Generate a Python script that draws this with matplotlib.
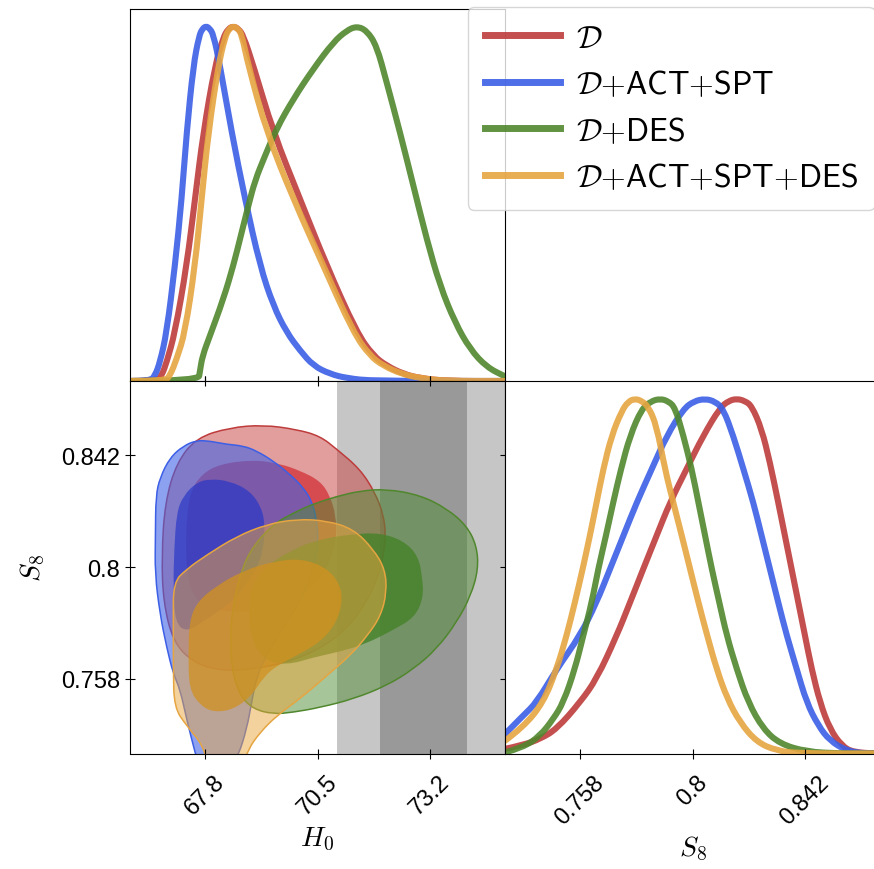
import numpy as np
import matplotlib
matplotlib.use('Agg')
import matplotlib.pyplot as plt
from matplotlib.lines import Line2D
from matplotlib.path import Path
from matplotlib.patches import PathPatch

plt.rcParams['font.family'] = ['Liberation Sans', 'DejaVu Sans']
plt.rcParams['mathtext.fontset'] = 'cm'

# ─── Parameter ranges / ticks ────────────────────────────────────────────────
H0_RANGE = (66.0, 75.0)
S8_RANGE = (0.730, 0.870)
H0_TICKS = [67.8, 70.5, 73.2]
S8_TICKS = [0.758, 0.8, 0.842]
H0_TICKLABELS = ['67.8', '70.5', '73.2']
S8_TICKLABELS = ['0.758', '0.8', '0.842']

# local distance-ladder H0 band (mean, 1 sigma)
SH0ES_MEAN, SH0ES_SIG = 73.04, 1.04

LABELS = [r'$\mathcal{D}$',
          r'$\mathcal{D}{+}\mathsf{ACT}{+}\mathsf{SPT}$',
          r'$\mathcal{D}{+}\mathsf{DES}$',
          r'$\mathcal{D}{+}\mathsf{ACT}{+}\mathsf{SPT}{+}\mathsf{DES}$']
LINE_COLORS = ['#BE3C3C', '#3C5FE6', '#50872D', '#E6A541']
FILL_2SIG = [(0.78, 0.24, 0.24, 0.50), (0.25, 0.39, 0.90, 0.60),
             (0.31, 0.55, 0.20, 0.50), (0.92, 0.65, 0.24, 0.50)]
FILL_1SIG = [(0.82, 0.16, 0.18, 0.70), (0.16, 0.22, 0.78, 0.70),
             (0.27, 0.51, 0.16, 0.80), (0.82, 0.57, 0.12, 0.75)]

# ─── 1D marginals: (H0, P/Pmax) ──────────────────────────────────────────────
H0_D = [(66.00, 0.0), (66.64, 0.0), (66.76, 0.015), (66.88, 0.053), (67.08, 0.137),
        (67.36, 0.325), (67.56, 0.513), (67.76, 0.701), (68.04, 0.889), (68.24, 0.969),
        (68.36, 0.993), (68.48, 1.0), (68.60, 0.993), (68.72, 0.974), (68.96, 0.889),
        (69.44, 0.701), (70.08, 0.513), (70.72, 0.325), (71.44, 0.137), (71.84, 0.071),
        (72.16, 0.043), (72.56, 0.020), (72.96, 0.008), (73.60, 0.0), (75.00, 0.0)]
H0_ACT = [(66.00, 0.0), (66.48, 0.0), (66.60, 0.015), (66.72, 0.053), (66.88, 0.137),
          (67.08, 0.325), (67.24, 0.513), (67.36, 0.701), (67.52, 0.889), (67.66, 0.974),
          (67.74, 0.993), (67.82, 1.0), (67.90, 0.995), (68.00, 0.978), (68.16, 0.889),
          (68.44, 0.701), (68.76, 0.513), (69.12, 0.325), (69.44, 0.212), (69.76, 0.137),
          (70.08, 0.086), (70.40, 0.043), (70.80, 0.020), (71.20, 0.008), (71.84, 0.0),
          (75.00, 0.0)]
H0_DES = [(66.00, 0.0), (67.64, 0.0), (67.68, 0.029), (67.74, 0.071), (67.92, 0.128),
          (68.24, 0.231), (68.48, 0.325), (68.68, 0.419), (68.84, 0.494), (69.00, 0.565),
          (69.24, 0.635), (69.52, 0.712), (69.92, 0.795), (70.40, 0.880), (70.88, 0.955),
          (71.20, 0.988), (71.44, 1.0), (71.68, 0.988), (71.92, 0.945), (72.16, 0.842),
          (72.48, 0.701), (72.80, 0.551), (73.12, 0.400), (73.44, 0.269), (73.80, 0.165),
          (74.16, 0.090), (74.56, 0.039), (75.00, 0.013)]
H0_ALL = [(66.00, 0.0), (66.84, 0.0), (66.96, 0.015), (67.12, 0.062), (67.32, 0.137),
          (67.56, 0.325), (67.72, 0.513), (67.88, 0.701), (68.12, 0.889), (68.28, 0.969),
          (68.38, 0.993), (68.48, 1.0), (68.58, 0.994), (68.68, 0.978), (68.84, 0.889),
          (69.28, 0.701), (69.92, 0.513), (70.64, 0.325), (71.36, 0.137), (71.76, 0.071),
          (72.08, 0.043), (72.52, 0.020), (72.96, 0.008), (73.60, 0.0), (75.00, 0.0)]

# ─── 1D marginals: (S8, P/Pmax) ──────────────────────────────────────────────
S8_D = [(0.7300, 0.013), (0.7368, 0.024), (0.7431, 0.041), (0.7493, 0.069), (0.7580, 0.144),
        (0.7642, 0.210), (0.7717, 0.332), (0.7767, 0.426), (0.7816, 0.520), (0.7866, 0.614),
        (0.7916, 0.708), (0.7978, 0.802), (0.8040, 0.896), (0.8103, 0.975), (0.8135, 0.994),
        (0.8165, 1.0), (0.8195, 0.994), (0.8221, 0.980), (0.8258, 0.915), (0.8289, 0.821),
        (0.8320, 0.708), (0.8345, 0.614), (0.8370, 0.520), (0.8395, 0.426), (0.8420, 0.332),
        (0.8445, 0.238), (0.8476, 0.144), (0.8513, 0.069), (0.8557, 0.022), (0.8600, 0.003),
        (0.8700, 0.0)]
S8_ACT = [(0.7300, 0.055), (0.7368, 0.107), (0.7418, 0.144), (0.7493, 0.238), (0.7580, 0.332),
          (0.7642, 0.426), (0.7692, 0.520), (0.7742, 0.614), (0.7792, 0.708), (0.7848, 0.802),
          (0.7904, 0.896), (0.7966, 0.971), (0.8005, 0.993), (0.8047, 1.0), (0.8085, 0.992),
          (0.8115, 0.971), (0.8152, 0.896), (0.8190, 0.802), (0.8227, 0.708), (0.8258, 0.614),
          (0.8289, 0.520), (0.8320, 0.426), (0.8352, 0.332), (0.8389, 0.238), (0.8426, 0.144),
          (0.8470, 0.078), (0.8513, 0.036), (0.8575, 0.008), (0.8638, 0.0), (0.8700, 0.0)]
S8_DES = [(0.7300, 0.003), (0.7368, 0.017), (0.7431, 0.050), (0.7480, 0.097), (0.7518, 0.144),
          (0.7561, 0.238), (0.7592, 0.332), (0.7624, 0.426), (0.7648, 0.520), (0.7677, 0.614),
          (0.7704, 0.708), (0.7733, 0.802), (0.7767, 0.896), (0.7810, 0.971), (0.7845, 0.993),
          (0.7879, 1.0), (0.7910, 0.993), (0.7935, 0.975), (0.7966, 0.896), (0.7997, 0.802),
          (0.8022, 0.708), (0.8047, 0.614), (0.8072, 0.520), (0.8100, 0.426), (0.8128, 0.332),
          (0.8165, 0.238), (0.8208, 0.144), (0.8264, 0.069), (0.8327, 0.027), (0.8426, 0.005),
          (0.8551, 0.0), (0.8700, 0.0)]
S8_ALL = [(0.7300, 0.036), (0.7368, 0.074), (0.7443, 0.144), (0.7493, 0.238), (0.7530, 0.332),
          (0.7561, 0.426), (0.7590, 0.520), (0.7617, 0.614), (0.7642, 0.708), (0.7667, 0.802),
          (0.7698, 0.896), (0.7736, 0.966), (0.7760, 0.992), (0.7785, 1.0), (0.7810, 0.994),
          (0.7835, 0.978), (0.7866, 0.924), (0.7897, 0.802), (0.7928, 0.708), (0.7960, 0.614),
          (0.7991, 0.520), (0.8022, 0.426), (0.8055, 0.332), (0.8090, 0.238), (0.8130, 0.154),
          (0.8177, 0.088), (0.8240, 0.032), (0.8314, 0.008), (0.8401, 0.0), (0.8700, 0.0)]

# ─── 2D contours in (H0, S8): 68% and 95% ────────────────────────────────────
D_68 = [(67.36, 0.8181), (67.44, 0.8282), (67.72, 0.8350), (68.16, 0.8388), (68.96, 0.8404),
        (69.60, 0.8389), (70.08, 0.8363), (70.56, 0.8325), (70.80, 0.8269), (70.94, 0.8194),
        (70.96, 0.8106), (70.80, 0.8018), (70.48, 0.7943), (70.00, 0.7881), (69.36, 0.7843),
        (68.64, 0.7830), (67.92, 0.7843), (67.48, 0.7893), (67.36, 0.7993), (67.34, 0.8094)]
D_95 = [(66.76, 0.8043), (66.84, 0.8244), (67.12, 0.8394), (67.60, 0.8487), (68.40, 0.8525),
        (69.20, 0.8535), (70.00, 0.8518), (70.56, 0.8493), (70.96, 0.8444), (71.52, 0.8369),
        (71.88, 0.8281), (72.08, 0.8199), (72.14, 0.8119), (72.08, 0.8043), (71.96, 0.7968),
        (71.68, 0.7868), (71.20, 0.7768), (70.56, 0.7693), (69.76, 0.7642), (68.96, 0.7617),
        (68.16, 0.7611), (67.52, 0.7642), (67.04, 0.7718), (66.80, 0.7868)]
ACT_68 = [(67.12, 0.8206), (67.28, 0.8269), (67.60, 0.8319), (67.92, 0.8332), (68.40, 0.8324),
          (68.88, 0.8287), (69.16, 0.8224), (69.24, 0.8156), (69.20, 0.8068), (69.04, 0.7993),
          (68.72, 0.7918), (68.32, 0.7855), (67.84, 0.7805), (67.36, 0.7755), (67.08, 0.7793),
          (67.04, 0.7931), (67.06, 0.8068)]
ACT_95 = [(66.62, 0.8268), (66.72, 0.8337), (66.96, 0.8412), (67.28, 0.8456), (67.60, 0.8477),
          (67.92, 0.8474), (68.32, 0.8462), (68.72, 0.8456), (69.04, 0.8437), (69.44, 0.8399),
          (69.84, 0.8349), (70.16, 0.8299), (70.36, 0.8249), (70.48, 0.8181), (70.52, 0.8094),
          (70.40, 0.7993), (70.16, 0.7893), (69.76, 0.7793), (69.36, 0.7693), (69.04, 0.7592),
          (68.92, 0.7492), (68.80, 0.7392), (68.60, 0.7292), (68.40, 0.7242), (67.68, 0.7242),
          (67.56, 0.7304), (67.36, 0.7429), (67.20, 0.7542), (67.04, 0.7599), (66.88, 0.7699),
          (66.72, 0.7824), (66.60, 0.7975), (66.61, 0.8119)]
DES_68 = [(68.84, 0.7843), (68.92, 0.7937), (69.28, 0.8006), (69.92, 0.8068), (70.56, 0.8106),
          (71.36, 0.8125), (72.00, 0.8129), (72.56, 0.8100), (72.92, 0.8043), (73.02, 0.7956),
          (73.04, 0.7887), (72.84, 0.7812), (72.28, 0.7761), (71.64, 0.7711), (71.04, 0.7683),
          (70.40, 0.7661), (69.76, 0.7632), (69.20, 0.7652), (68.90, 0.7736)]
DES_95 = [(69.44, 0.8162), (69.92, 0.8204), (70.40, 0.8238), (70.96, 0.8266), (71.52, 0.8287),
          (72.16, 0.8294), (72.96, 0.8271), (73.60, 0.8221), (74.08, 0.8156), (74.32, 0.8081),
          (74.36, 0.7993), (74.18, 0.7893), (73.84, 0.7793), (73.36, 0.7693), (72.80, 0.7617),
          (72.16, 0.7555), (71.36, 0.7505), (70.56, 0.7473), (69.92, 0.7455), (69.44, 0.7448),
          (68.96, 0.7467), (68.64, 0.7517), (68.44, 0.7617), (68.40, 0.7743), (68.48, 0.7868),
          (68.68, 0.7993), (68.96, 0.8081)]
ALL_68 = [(67.42, 0.7542), (67.40, 0.7668), (67.42, 0.7793), (67.60, 0.7868), (68.08, 0.7931),
          (68.72, 0.7987), (69.44, 0.8022), (70.12, 0.8033), (70.72, 0.7998), (71.04, 0.7937),
          (71.10, 0.7868), (70.94, 0.7787), (70.56, 0.7718), (70.00, 0.7668), (69.52, 0.7630),
          (69.20, 0.7586), (68.92, 0.7517), (68.48, 0.7465), (68.00, 0.7455), (67.68, 0.7482)]
ALL_95 = [(67.04, 0.7943), (67.36, 0.7993), (67.84, 0.8046), (68.56, 0.8116), (69.28, 0.8161),
          (70.00, 0.8181), (70.72, 0.8175), (71.36, 0.8144), (71.84, 0.8068), (72.12, 0.7993),
          (72.16, 0.7906), (72.02, 0.7818), (71.70, 0.7743), (71.28, 0.7668), (70.72, 0.7592),
          (70.12, 0.7511), (69.52, 0.7442), (69.12, 0.7379), (68.84, 0.7317), (68.68, 0.7242),
          (67.88, 0.7242), (67.76, 0.7329), (67.36, 0.7404), (67.06, 0.7473), (67.04, 0.7617),
          (67.04, 0.7793)]

H0_1D = [H0_D, H0_ACT, H0_DES, H0_ALL]
S8_1D = [S8_D, S8_ACT, S8_DES, S8_ALL]
C68 = [D_68, ACT_68, DES_68, ALL_68]
C95 = [D_95, ACT_95, DES_95, ALL_95]


# ─── Helpers: rounded paths through the read-off vertices ────────────────────
def open_path(pts):
    p = np.asarray(pts, float)
    mids = (p[1:] + p[:-1]) / 2
    verts, codes = [p[0]], [Path.MOVETO]
    for i in range(1, len(p) - 1):
        verts += [p[i], mids[i]]
        codes += [Path.CURVE3, Path.CURVE3]
    verts.append(p[-1])
    codes.append(Path.LINETO)
    return Path(verts, codes)


def closed_path(pts):
    p = np.asarray(pts, float)
    mids = (p + np.roll(p, -1, axis=0)) / 2
    verts, codes = [mids[-1]], [Path.MOVETO]
    for i in range(len(p)):
        verts += [p[i], mids[i]]
        codes += [Path.CURVE3, Path.CURVE3]
    verts.append(mids[-1])
    codes.append(Path.CLOSEPOLY)
    return Path(verts, codes)


# ─── Figure ──────────────────────────────────────────────────────────────────
W, H = 874, 870
fig = plt.figure(figsize=(W / 100, H / 100), dpi=100)
PX_L, PX_M, PX_R = 130, 505, 880
PY_T, PY_M, PY_B = 9.5, 382, 754.5

def box(x0, x1, y0, y1):
    return [x0 / W, 1 - y1 / H, (x1 - x0) / W, (y1 - y0) / H]

ax_h0 = fig.add_axes(box(PX_L, PX_M, PY_T, PY_M))
ax_2d = fig.add_axes(box(PX_L, PX_M, PY_M, PY_B))
ax_s8 = fig.add_axes(box(PX_M, PX_R, PY_M, PY_B))

LW = 4.4
TICK_FS = 17
LABEL_FS = 20

for ax, curves in ((ax_h0, H0_1D), (ax_s8, S8_1D)):
    for pts, c in zip(curves, LINE_COLORS):
        ax.add_patch(PathPatch(open_path(pts), facecolor='none', edgecolor=c,
                               lw=LW, alpha=0.9, capstyle='round', joinstyle='round'))
    ax.set_ylim(0, 1.05)
    ax.set_yticks([])

ax_h0.set_xlim(*H0_RANGE)
ax_h0.set_xticks(H0_TICKS)
ax_h0.tick_params(axis='x', direction='inout', length=7, labelbottom=False)

ax_s8.set_xlim(*S8_RANGE)
ax_s8.set_xticks(S8_TICKS)
ax_s8.set_xticklabels(S8_TICKLABELS, rotation=45, fontsize=TICK_FS)
ax_s8.tick_params(axis='x', direction='inout', length=7, pad=9)
ax_s8.set_xlabel(r'$S_8$', fontsize=LABEL_FS)

# H0 band (1 and 2 sigma)
lo2, hi2 = SH0ES_MEAN - 2 * SH0ES_SIG, SH0ES_MEAN + 2 * SH0ES_SIG
lo1, hi1 = SH0ES_MEAN - SH0ES_SIG, SH0ES_MEAN + SH0ES_SIG
ax_2d.axvspan(lo2, hi2, color='#c6c6c6', lw=0, zorder=0)
ax_2d.axvspan(lo1, hi1, color='#999999', lw=0, zorder=0)

for c95, c68, lc, f2, f1 in zip(C95, C68, LINE_COLORS, FILL_2SIG, FILL_1SIG):
    ax_2d.add_patch(PathPatch(closed_path(c95), facecolor=f2, edgecolor=lc, lw=1.1))
    ax_2d.add_patch(PathPatch(closed_path(c68), facecolor=f1, edgecolor='none'))

ax_2d.set_xlim(*H0_RANGE)
ax_2d.set_ylim(*S8_RANGE)
ax_2d.set_xticks(H0_TICKS)
ax_2d.set_xticklabels(H0_TICKLABELS, rotation=45, fontsize=TICK_FS)
ax_2d.set_yticks(S8_TICKS)
ax_2d.set_yticklabels(S8_TICKLABELS, fontsize=TICK_FS)
ax_2d.tick_params(direction='inout', length=7, top=True, right=True)
ax_2d.tick_params(axis='x', pad=9)
ax_2d.set_xlabel(r'$H_0$', fontsize=LABEL_FS)
ax_2d.set_ylabel(r'$S_8$', fontsize=LABEL_FS, labelpad=10)

handles = [Line2D([], [], color=c, lw=LW + 0.6, alpha=0.9) for c in LINE_COLORS]
fig.legend(handles, LABELS, loc='upper left', bbox_to_anchor=(468 / W, 1 - 8 / H),
           borderaxespad=0, fontsize=23, handlelength=2.35, handletextpad=0.5,
           labelspacing=0.49, borderpad=0.52, framealpha=0.8)

fig.savefig('out.png', dpi=100)
